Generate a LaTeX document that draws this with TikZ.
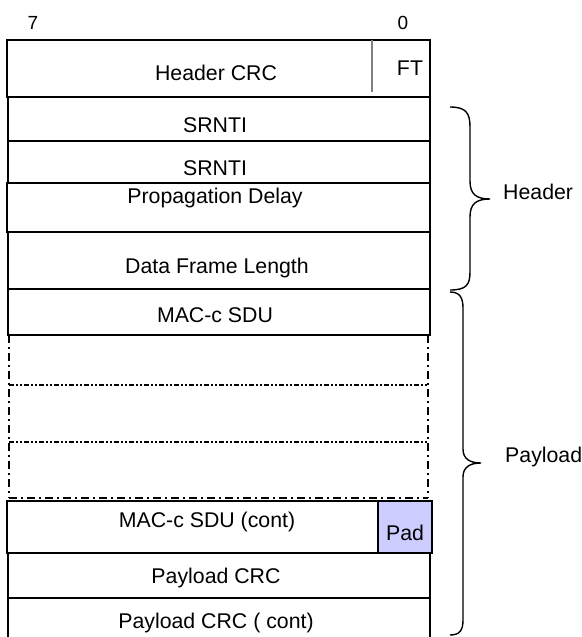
\documentclass[tikz,border=0pt]{standalone}
\usepackage{fontspec}
\setmainfont{Liberation Sans}
\begin{document}
\begin{tikzpicture}[x=1pt,y=-1pt,
  rowline/.style={draw=black,line width=1.5pt},
  dashrow/.style={draw=black,line width=1.5pt,dash pattern=on 8pt off 4pt on 2pt off 4pt},
  densedash/.style={draw=black,line width=1.5pt,dash pattern=on 5pt off 2pt on 2pt off 2pt on 2pt off 2pt},
  txt/.style={inner sep=0pt,font=\fontsize{21.3}{25}\selectfont},
  bitlbl/.style={inner sep=0pt,font=\fontsize{19}{22}\selectfont},
  bracestyle/.style={draw=black,line width=1.4pt},
  padfill/.style={fill={rgb,255:red,204;green,204;blue,255}}]
\useasboundingbox (0,0) rectangle (581,637);
\fill[white] (0,0) rectangle (581,637);
% bit labels
\node[bitlbl] (b7) at (33,23) {7};
\node[bitlbl] (b0) at (403,23) {0};
% rows
\draw[rowline] (7,40) rectangle (430,97);
\draw[draw=gray,line width=1.3pt] (372,40) -- (372,92);
\draw[rowline] (8,97) rectangle (430,141);
\draw[rowline] (8,141) rectangle (430,183);
\draw[rowline] (7,183) rectangle (430,232);
\draw[rowline] (8,232) rectangle (430,289);
\draw[rowline] (8,289) rectangle (430,335);
% dashed rows
\draw[dashrow] (9,335) -- (428,335);
\draw[dashrow] (9,335) -- (9,498);
\draw[dashrow] (428,335) -- (428,498);
\draw[densedash] (9,385) -- (428,385);
\draw[densedash] (9,442) -- (428,442);
\draw[dashrow] (9,498) -- (428,498);
% lower rows
\draw[rowline] (7,501) rectangle (378,553);
\draw[rowline,padfill] (378,501) rectangle (432,553);
\draw[rowline] (8,553) rectangle (430,598);
\draw[rowline] (8,640) -- (8,598) -- (430,598) -- (430,640);
% texts
\node[txt] (hcrc) at (216,73) {Header CRC};
\node[txt] (ft) at (410,68) {FT};
\node[txt] (s1) at (215,125) {SRNTI};
\node[txt] (s2) at (215,168) {SRNTI};
\node[txt] (pd) at (215,198) {Propagation Delay};
\node[txt] (dfl) at (217,268) {Data Frame Length};
\node[txt] (mac) at (215,315) {MAC-c SDU};
\node[txt] (macc) at (207,522) {MAC-c SDU (cont)};
\node[txt] (pad) at (405,533) {Pad};
\node[txt] (pcrc) at (216,578) {Payload CRC};
\node[txt] (pcrcc) at (216,623) {Payload CRC ( cont)};
% braces
\draw[bracestyle] (450,107) .. controls (466,107) and (470,113) .. (470,127)
  -- (470,181) .. controls (470,194) and (476,199) .. (490,199)
  .. controls (476,199) and (470,204) .. (470,217)
  -- (470,272) .. controls (470,285) and (466,290) .. (450,290);
\node[txt,anchor=west] (hdr) at (503,192) {Header};
\draw[bracestyle] (450,292) .. controls (460,292) and (463,298) .. (463,308)
  -- (463,449) .. controls (463,459) and (470,463) .. (481,463)
  .. controls (470,463) and (463,467) .. (463,477)
  -- (463,620) .. controls (463,630) and (460,635) .. (450,635);
\node[txt,anchor=west] (pl) at (505,457) {Payload};
\end{tikzpicture}
\end{document}
